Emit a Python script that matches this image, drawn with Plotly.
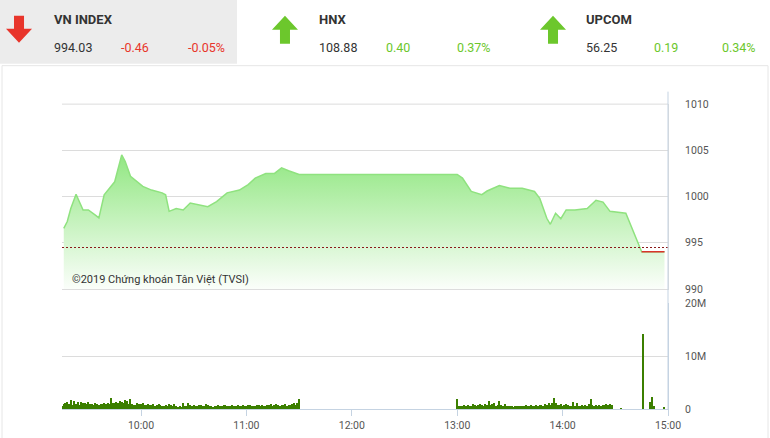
import plotly.graph_objects as go
from datetime import datetime, timedelta

D = "2019-01-01 "
price_times = ["09:16","09:18","09:20","09:23","09:27","09:30","09:34","09:36","09:39","09:45","09:49","09:51","09:54",
 "10:01","10:06","10:12","10:14","10:16","10:20","10:24","10:28","10:38","10:43","10:49","10:56","11:01","11:05",
 "11:11","11:16","11:20","11:24","11:30","13:00","13:03","13:08","13:14","13:17","13:24","13:30","13:37","13:44",
 "13:47","13:51","13:53","13:56","13:59","14:02","14:07","14:14","14:19","14:23","14:27","14:36","14:45","14:58"]
price_vals = [996.55,997.3,998.7,1000.25,998.55,998.55,998.0,997.7,1000.2,1001.6,1004.5,1003.8,1002.2,
 1001.1,1000.7,1000.4,1000.2,998.4,998.7,998.55,999.3,998.9,999.45,1000.4,1000.7,1001.3,1002.0,
 1002.5,1002.5,1003.1,1002.8,1002.4,1002.4,1002.0,1000.55,1000.2,1000.6,1001.2,1000.9,1000.9,1000.55,
 999.8,997.65,997.0,998.2,997.6,998.55,998.55,998.7,999.6,999.4,998.4,998.2,994.03,994.03]
ref_value = 994.49
close_times = ["14:45","14:58"]
close_vals = [994.03,994.03]

vol_am = [0.5,0.9,1.1,1.4,0.9,1.6,0.8,1.5,1.0,1.3,0.8,1.4,1.1,1.2,0.9,1.3,1.0,0.9,0.8,1.1,0.9,0.8,1.0,0.9,1.1,1.0,1.2,1.0,2.1,1.1,
 1.2,1.3,1.1,1.5,1.4,1.2,1.7,1.5,1.0,1.9,0.9,0.8,0.7,1.1,1.0,0.9,1.2,0.8,0.7,0.9,0.8,0.7,0.9,0.6,0.8,0.9,0.7,0.6,0.5,0.8,
 0.6,0.9,0.7,0.5,0.9,0.6,0.3,0.5,0.4,1.2,0.6,0.5,1.1,0.7,0.6,0.8,0.5,0.6,0.7,0.8,0.6,0.5,0.9,0.7,0.6,0.5,0.4,0.6,0.5,0.7,
 0.6,0.5,0.7,0.8,0.5,0.6,0.5,0.7,0.6,0.5,0.8,0.6,0.5,0.7,0.6,0.5,0.8,0.7,0.6,0.5,0.6,0.7,0.8,0.6,0.7,0.5,0.6,0.8,0.7,0.9,
 0.6,0.8,1.0,0.7,0.6,0.8,0.7,0.9,0.6,0.8,0.7,0.9,1.1,0.8,1.2,1.8]
vol_pm = [1.9,0.5,0.6,0.5,0.7,0.6,0.8,0.5,0.6,0.9,0.7,0.6,0.8,1.0,0.7,0.6,0.9,0.8,1.5,0.7,0.9,1.1,0.6,0.8,1.5,0.7,0.6,0.9,0.6,0.5,
 0.6,0.5,0.4,0.6,0.5,0.6,0.5,0.6,0.5,0.7,0.6,0.5,0.7,0.6,0.5,0.7,0.6,0.8,0.7,0.6,0.9,0.8,1.1,0.7,1.2,2.0,1.1,0.8,0.7,0.9,
 0.6,0.7,1.0,0.8,0.6,0.5,1.3,0.6,1.2,0.6,0.5,0.7,0.6,0.8,0.5,1.0,1.8,0.7,0.6,0.8,0.6,0.7,0.6,0.8,0.7,0.9,0.8,0.9,0.7]
vol_late_times = ["14:33","14:46","14:50","14:51","14:52","14:58"]
vol_late = [0.1,14.2,1.4,2.2,0.6,0.3]

def t(s):
    return D + s

am_end = datetime(2019,1,1,11,30)
am_times = [(am_end - timedelta(minutes=len(vol_am)-1-i)).strftime("%Y-%m-%d %H:%M") for i in range(len(vol_am))]
pm_start = datetime(2019,1,1,13,0)
pm_times = [(pm_start + timedelta(minutes=i)).strftime("%Y-%m-%d %H:%M") for i in range(len(vol_pm))]
vx = am_times + pm_times + [t(s) for s in vol_late_times]
vy = [v*1e6 for v in vol_am + vol_pm + vol_late]

fig = go.Figure()
fig.add_trace(go.Scatter(x=[t(s) for s in price_times], y=price_vals, mode="lines",
    line=dict(color="#8fe27f", width=1.5), fill="tozeroy",
    fillgradient=dict(type="vertical", colorscale=[[0, "rgba(255,255,255,1)"], [1, "rgba(150,232,135,1)"]], start=990, stop=1004),
    xaxis="x", yaxis="y", hoverinfo="skip"))
fig.add_trace(go.Scatter(x=[t(s) for s in close_times], y=close_vals, mode="lines",
    line=dict(color="#d9342b", width=1.5), xaxis="x", yaxis="y"))
fig.add_trace(go.Bar(x=vx, y=vy, marker=dict(color="#3b7f00", line=dict(width=0)), width=38000,
    xaxis="x2", yaxis="y2"))

xr = [t("09:15"), t("15:00")]
W, H = 770, 438
L, R = 62/W, 668/W
def Y(y):
    return (H - (y - 4.3) / 0.987) / H
fig.update_layout(
    width=783, height=445, margin=dict(l=0, r=0, t=0, b=0), showlegend=False,
    paper_bgcolor="white", plot_bgcolor="white",
    font=dict(family="Roboto", color="#444", size=10),
    xaxis=dict(domain=[L, R], range=xr, type="date", showticklabels=False, showgrid=False, zeroline=False,
               anchor="y", showline=True, linecolor="#dddddd", mirror=False),
    yaxis=dict(domain=[Y(287.5), Y(102.5)], range=[990, 1010], side="right", tickvals=[990, 995, 1000, 1005, 1010],
               gridcolor="#dcdcdc", zeroline=False, anchor="x", ticklabelstandoff=14, tickfont=dict(size=10.5, color="#555"),
               showline=True, linecolor="#dcdcdc", mirror=False),
    xaxis2=dict(domain=[L, R], range=xr, type="date", anchor="y2", showgrid=False, showline=True, linecolor="#c5d3e2",
                tickformat="%H:%M", dtick=3600000, tick0=t("10:00"), ticks="outside", ticklen=6, tickcolor="#c5d3e2",
                tickfont=dict(size=10.5, color="#555")),
    yaxis2=dict(domain=[Y(408), Y(302)], range=[0, 20e6], side="right", tickvals=[0, 10e6, 20e6],
                ticktext=["0", "10M", "20M"], gridcolor="#dcdcdc", zeroline=False, anchor="x2", showline=True,
                linecolor="#c5d3e2", ticklabelstandoff=14, tickfont=dict(size=10.5, color="#555")),
    bargap=0,
)
fig.add_shape(type="line", xref="paper", yref="paper", x0=L, x1=R, y0=Y(102.5), y1=Y(102.5),
              line=dict(color="#dcdcdc", width=1))
fig.add_shape(type="line", xref="paper", yref="y", x0=L, x1=R, y0=ref_value, y1=ref_value,
              line=dict(color="#8b1a1a", width=1, dash="2px,2px"))
fig.add_shape(type="line", xref="paper", yref="paper", x0=R, x1=R, y0=Y(408), y1=Y(90),
              line=dict(color="#c5d3e2", width=1))
fig.add_shape(type="rect", xref="paper", yref="paper", x0=0, x1=237/W, y0=Y(62), y1=1.05,
              fillcolor="#ececec", line=dict(width=0), layer="below")
fig.add_shape(type="rect", xref="paper", yref="paper", x0=2/W, x1=768/W, y0=-0.05, y1=Y(64),
              fillcolor="rgba(0,0,0,0)", line=dict(color="#e6e6e6", width=1))
def arrow(cx, top, bot, color, up):
    if up:
        pts = [(cx, top), (cx+13, top+14), (cx+5, top+14), (cx+5, bot), (cx-5, bot), (cx-5, top+14), (cx-13, top+14)]
    else:
        pts = [(cx, bot), (cx+13, bot-14), (cx+5, bot-14), (cx+5, top), (cx-5, top), (cx-5, bot-14), (cx-13, bot-14)]
    path = "M " + " L ".join(f"{px/W:.4f},{Y(py):.4f}" for px, py in pts) + " Z"
    fig.add_shape(type="path", xref="paper", yref="paper", path=path, fillcolor=color, line=dict(width=0))
arrow(19, 14, 41, "#e8352b", False)
arrow(285, 14, 42, "#6cc72c", True)
arrow(553, 14, 42, "#6cc72c", True)

RED, GRN, TXT = "#e8352b", "#6cc72c", "#333333"
header = [
    (52, 18, "<b>VN INDEX</b>", TXT), (52, 46, "994.03", TXT), (119, 46, "-0.46", RED), (186, 46, "-0.05%", RED),
    (317, 18, "<b>HNX</b>", TXT), (317, 46, "108.88", TXT), (384, 46, "0.40", GRN), (455, 46, "0.37%", GRN),
    (584, 18, "<b>UPCOM</b>", TXT), (584, 46, "56.25", TXT), (652, 46, "0.19", GRN), (720, 46, "0.34%", GRN),
]
for x, y, s, c in header:
    fig.add_annotation(xref="paper", yref="paper", x=x/W, y=Y(y), text=s, showarrow=False,
                       xanchor="left", yanchor="middle", font=dict(size=13 if "<b>" in s else 12.5, color=c, family="Roboto"))
fig.add_annotation(xref="paper", yref="paper", x=70/W, y=Y(278), text="©2019 Chứng khoán Tân Việt (TVSI)",
                   showarrow=False, xanchor="left", yanchor="middle", font=dict(size=11, color="#333"))
js = ("var d=document.getElementById('{plot_id}');"
      "d.style.position='fixed';d.style.left='0px';d.style.top='0px';")
fig.write_html("out.html", config={"displayModeBar": False}, post_script=js)
